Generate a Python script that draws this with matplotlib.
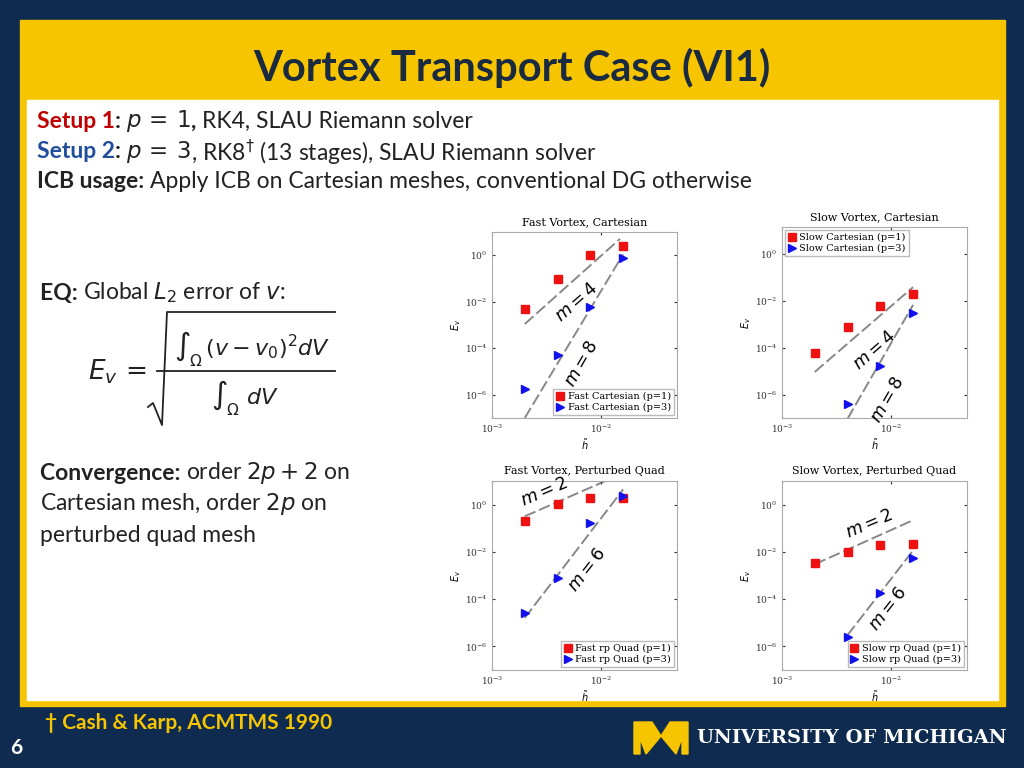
import matplotlib
matplotlib.use("Agg")
import matplotlib.pyplot as plt
from matplotlib.patches import Rectangle, Polygon

h = [2e-3, 4e-3, 8e-3, 1.6e-2]
fast_cart_p1 = [5e-3, 0.1, 1.0, 2.6]
fast_cart_p3 = [1.7e-6, 5e-5, 6e-3, 0.8]
slow_cart_p1 = [6e-5, 8e-4, 6e-3, 2e-2]
slow_cart_p3 = [None, 4e-7, 1.7e-5, 3e-3]
fast_pq_p1 = [0.21, 1.07, 1.9, 1.9]
fast_pq_p3 = [2.5e-5, 7.8e-4, 0.17, 2.3]
slow_pq_p1 = [3.4e-3, 1e-2, 1.9e-2, 2.1e-2]
slow_pq_p3 = [None, 2.5e-6, 1.9e-4, 5.7e-3]

# reference lines: (x0, y0), (x1, y1)
fast_cart_lines = [((2e-3, 1.1e-3), (1.5e-2, 5.1)), ((2e-3, 1e-7), (1.6e-2, 1.1))]
slow_cart_lines = [((2e-3, 9.3e-6), (1.6e-2, 3.9e-2)), ((4e-3, 9.3e-8), (1.6e-2, 6.8e-3))]
fast_pq_lines = [((2e-3, 0.32), (1.1e-2, 10.0)), ((2e-3, 1.6e-5), (1.6e-2, 4.4))]
slow_pq_lines = [((2e-3, 3e-3), (1.6e-2, 0.22)), ((4e-3, 3e-6), (1.6e-2, 1.15e-2))]

NAVY = "#0f2b4f"
GOLD = "#f6c500"

fig = plt.figure(figsize=(10.24, 7.68), dpi=100)
fig.patch.set_facecolor(NAVY)
W, H = 1024, 768
def fx(x): return x / W
def fy(y): return 1 - y / H

fig.patches.append(Rectangle((fx(20), fy(706)), 985 / W, 686 / H, transform=fig.transFigure, color=GOLD, zorder=-3))
fig.patches.append(Rectangle((fx(27), fy(700)), 971 / W, 600 / H, transform=fig.transFigure, color="white", zorder=-2))

fig.text(fx(512), fy(68), "Vortex Transport Case (VI1)", ha="center", va="center",
         fontsize=30, fontweight="bold", color="#1a2a40", family="Lato")

renderer = fig.canvas.get_renderer()
FS = 16.5
def seq(x, y, pieces, size=FS):
    cx = x
    for s, c, b in pieces:
        t = fig.text(fx(cx), fy(y), s, fontsize=size, family="Lato", va="center", color=c,
                     fontweight="bold" if b else "normal")
        cx += t.get_window_extent(renderer).width
    return cx

DK = "#222222"
seq(37, 121, [("Setup 1", "#c00000", True), (": ", DK, True), (r"$p\,=\,1$", DK, False), (", ", DK, True),
              ("RK4, SLAU Riemann solver", DK, False)])
seq(37, 152, [("Setup 2", "#1f4e9c", True), (": ", DK, True), (r"$p\,=\,3$", DK, False),
              (r", RK8$^{\dagger}$ (13 stages), SLAU Riemann solver", DK, False)])
seq(37, 182, [("ICB usage: ", DK, True), ("Apply ICB on Cartesian meshes, conventional DG otherwise", DK, False)])
seq(40, 293, [("EQ: ", DK, True), (r"Global $L_2$ error of $v$:", DK, False)])
fig.text(fx(88), fy(372), r"$E_v\,=$", fontsize=19, va="center", color=DK)
fig.text(fx(252), fy(349), r"$\int_\Omega\,(v-v_0)^2dV$", fontsize=16, ha="center", va="center", color=DK)
fig.text(fx(245), fy(398), r"$\int_\Omega\ dV$", fontsize=16, ha="center", va="center", color=DK)
fig.lines.append(plt.Line2D([fx(157), fx(335)], [fy(371), fy(371)], transform=fig.transFigure, color=DK, lw=1.3))
fig.lines.append(plt.Line2D([fx(148), fx(153), fx(162), fx(167), fx(335)],
                            [fy(407), fy(403), fy(425), fy(312), fy(312)], transform=fig.transFigure, color=DK, lw=1.3))
seq(40, 473, [("Convergence: ", DK, True), (r"order $2p+2$ on", DK, False)])
fig.text(fx(40), fy(504), r"Cartesian mesh, order $2p$ on", fontsize=FS, family="Lato", va="center", color=DK)
fig.text(fx(40), fy(535), "perturbed quad mesh", fontsize=FS, family="Lato", va="center", color=DK)

fig.text(fx(45), fy(723), "† Cash & Karp, ACMTMS 1990", fontsize=15, fontweight="bold", color=GOLD, va="center", family="Lato")
fig.text(fx(10), fy(748), "6", fontsize=15, fontweight="bold", color="white", va="center", family="Lato")
fig.text(fx(697), fy(738), "UNIVERSITY OF MICHIGAN", fontsize=14, fontweight="bold", color="white", va="center", family="DejaVu Serif")
mx = [634, 652, 661, 670, 688, 688, 682, 682, 676, 661, 646, 640, 640, 634]
my = [722, 722, 736, 722, 722, 754, 754, 738, 754, 736, 754, 738, 754, 754]
fig.patches.append(Polygon([(fx(a), fy(b)) for a, b in zip(mx, my)], closed=True, transform=fig.transFigure, color=GOLD))

def panel(box, title, p1, p3, lines, labels, leg_loc, ann, ytop=10.0):
    x0, y0, x1, y1 = box
    ax = fig.add_axes([fx(x0), fy(y1), (x1 - x0) / W, (y1 - y0) / H])
    ax.set_xscale("log"); ax.set_yscale("log")
    for (a, b) in lines:
        ax.plot([a[0], b[0]], [a[1], b[1]], ls=(0, (6, 2)), color="#888888", lw=1.4, zorder=1)
    hx1 = [x for x, v in zip(h, p1) if v is not None]
    v1 = [v for v in p1 if v is not None]
    hx3 = [x for x, v in zip(h, p3) if v is not None]
    v3 = [v for v in p3 if v is not None]
    ax.plot(hx1, v1, "s", color="#ee1111", ms=5.5, ls="none", label=labels[0], zorder=3)
    ax.plot(hx3, v3, ">", color="#1111ee", ms=6, ls="none", label=labels[1], zorder=3)
    ax.set_xlim(1e-3, 5e-2); ax.set_ylim(1e-7, ytop)
    ax.set_yticks([1e-6, 1e-4, 1e-2, 1e0])
    ax.set_xticks([1e-3, 1e-2])
    ax.minorticks_off()
    ax.tick_params(labelsize=6.5, length=2, direction="in", top=True, right=True, colors="#333333")
    for lab in ax.get_xticklabels() + ax.get_yticklabels():
        lab.set_family("DejaVu Serif")
    for s in ax.spines.values():
        s.set_color("#aaaaaa")
    ax.set_title(title, fontsize=8, family="DejaVu Serif", pad=5)
    ax.set_ylabel(r"$E_v$", fontsize=7, labelpad=1)
    ax.set_xlabel(r"$\tilde{h}$", fontsize=7, labelpad=1)
    ax.legend(loc=leg_loc, prop={"family": "DejaVu Serif", "size": 7}, handlelength=0.8,
              borderpad=0.3, labelspacing=0.2, handletextpad=0.4, fancybox=False, edgecolor="#aaaaaa", borderaxespad=0.3)
    for (x, y, s, r) in ann:
        ax.text(x, y, s, fontsize=12.5, rotation=r, ha="center", va="center")
    return ax

panel((492, 232, 677, 418), "Fast Vortex, Cartesian", fast_cart_p1, fast_cart_p3, fast_cart_lines,
      ["Fast Cartesian (p=1)", "Fast Cartesian (p=3)"], "lower right",
      [(6.0e-3, 1.0e-2, "$m=4$", 41), (6.6e-3, 2.2e-5, "$m=8$", 60)])
panel((782, 227, 967, 418), "Slow Vortex, Cartesian", slow_cart_p1, slow_cart_p3, slow_cart_lines,
      ["Slow Cartesian (p=1)", "Slow Cartesian (p=3)"], "upper left",
      [(7.0e-3, 8e-5, "$m=4$", 41), (9.2e-3, 6e-7, "$m=8$", 60)], ytop=10 ** 1.16)
panel((492, 481, 677, 670), "Fast Vortex, Perturbed Quad", fast_pq_p1, fast_pq_p3, fast_pq_lines,
      ["Fast rp Quad (p=1)", "Fast rp Quad (p=3)"], "lower right",
      [(3.0e-3, 3.3, "$m=2$", 23), (7.5e-3, 1.8e-3, "$m=6$", 52)])
panel((782, 481, 967, 670), "Slow Vortex, Perturbed Quad", slow_pq_p1, slow_pq_p3, slow_pq_lines,
      ["Slow rp Quad (p=1)", "Slow rp Quad (p=3)"], "lower right",
      [(6.3e-3, 0.15, "$m=2$", 23), (9.4e-3, 4e-5, "$m=6$", 52)])

fig.savefig("out.png", dpi=100, facecolor=fig.get_facecolor())
